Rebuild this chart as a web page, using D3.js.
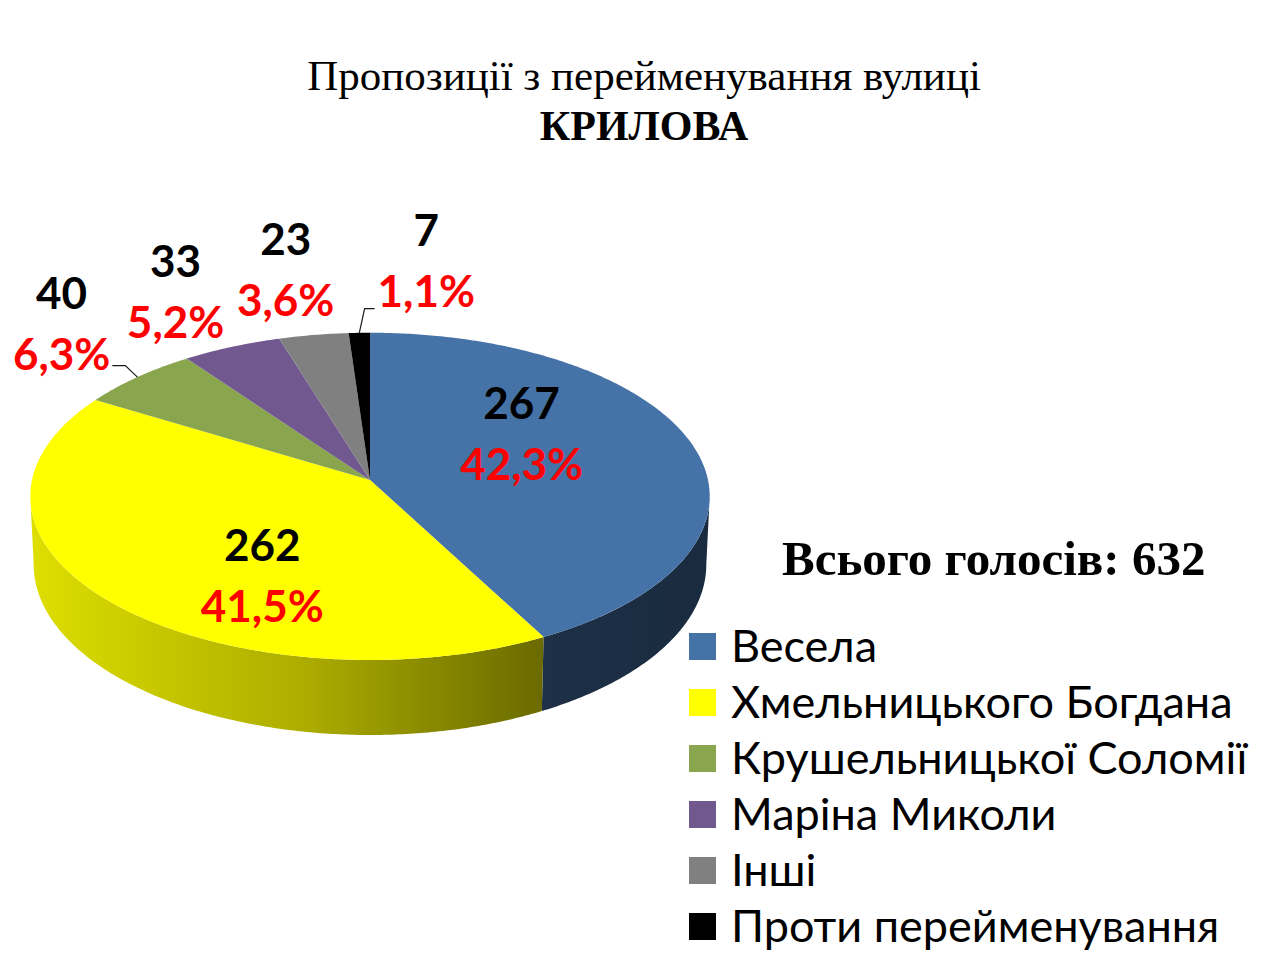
<!DOCTYPE html>
<html>
<head>
<meta charset="utf-8">
<script src="https://cdn.jsdelivr.net/npm/d3@7"></script>
<style>
  body { margin: 0; background: #fff; }
</style>
</head>
<body>
<svg id="chart" width="1280" height="960"></svg>
<script>
/*
  Data
*/
var categories = ["Весела", "Хмельницького Богдана", "Крушельницької Соломії", "Маріна Миколи", "Інші", "Проти перейменування"];
var votes = [267, 262, 40, 33, 23, 7];
var percentLabels = ["42,3%", "41,5%", "6,3%", "5,2%", "3,6%", "1,1%"];
var sliceColors = ["#4572a7", "#ffff00", "#89a54e", "#71588f", "#808080", "#000000"];
var titleLines = ["Пропозиції з перейменування вулиці", "КРИЛОВА"];
var totalLabel = "Всього голосів: 632";

/*
  3D pie geometry: a tilted disc with a little perspective
*/
var cx = 370, cy = 480, rx = 338, ry = 162, depth = 67.5;
var persp = 0.1; //back of the disc shrinks, front grows
var labelFont = "Lato, 'Open Sans', sans-serif";
var serifFont = "'Liberation Serif', 'Times New Roman', serif";

//where each label sits, relative to the slice's mid angle (flat ellipse)
var labelPlacement = [
  {k: 0.45, dx: 4, dy: 18},
  {k: 0.45, dx: 3, dy: 92},
  {k: 1.25, dx: 2, dy: 27, leader: "right"},
  {k: 1.25, dx: -6, dy: 39},
  {k: 1.25, dx: -7, dy: 35},
  {k: 1.25, dx: 71, dy: 29, leader: "left"}
];

function scaleAt(a){
  return 1 / (1 + persp * Math.cos(a));
}

//point on the rim; bottom = true gives the lower rim
function rimPt(a, bottom){
  var s = scaleAt(a);
  var x = rx * Math.sin(a) * s, y = -ry * Math.cos(a) * s;
  if(bottom){
    x *= 0.99;
    y += depth * s;
  }
  return [cx + x, cy + y];
}

function labelPt(a, k){
  return [cx + rx * k * Math.sin(a), cy - ry * k * Math.cos(a)];
}

function rimPoints(a0, a1, bottom){
  var n = Math.max(2, Math.ceil((a1 - a0) / 0.01));
  var pts = [];
  for(var i = 0; i <= n; i++) pts.push(rimPt(a0 + (a1 - a0) * i / n, bottom));
  return pts;
}

var svg = d3.select("#chart");
var line = d3.line();
var defs = svg.append("defs");

var pie = d3.pie().value(function(d){ return d; }).sort(null);
var slices = pie(votes);

//Side shading: darker towards the right
var shadeStops = [[0, 0.87], [0.4, 0.68], [0.75, 0.42], [1, 0.38]];
slices.forEach(function(s, i){
  var base = d3.rgb(sliceColors[i]);
  var g = defs.append("linearGradient")
    .attr("id", "side" + i)
    .attr("gradientUnits", "userSpaceOnUse")
    .attr("x1", cx - rx).attr("x2", cx + rx)
    .attr("y1", 0).attr("y2", 0);
  shadeStops.forEach(function(st){
    g.append("stop")
      .attr("offset", st[0])
      .attr("stop-color", d3.rgb(base.r * st[1], base.g * st[1], base.b * st[1]).formatHex());
  });
});

//Front sides (between the two silhouette angles)
var silhouette = Math.acos(-persp);
var sides = svg.append("g");
slices.forEach(function(s, i){
  var a0 = Math.max(s.startAngle, silhouette);
  var a1 = Math.min(s.endAngle, 2 * Math.PI - silhouette);
  if(a0 >= a1) return;
  var pts = rimPoints(a0, a1, false).concat(rimPoints(a0, a1, true).reverse());
  sides.append("path")
    .attr("d", line(pts) + "Z")
    .attr("fill", "url(#side" + i + ")");
});

//Top faces
var tops = svg.append("g");
slices.forEach(function(s, i){
  var pts = [[cx, cy]].concat(rimPoints(s.startAngle, s.endAngle, false));
  tops.append("path")
    .attr("d", line(pts) + "Z")
    .attr("fill", sliceColors[i]);
});

//Data labels
var labels = svg.append("g")
  .attr("font-family", labelFont)
  .attr("font-weight", "bold")
  .attr("font-size", 44)
  .attr("text-anchor", "middle");

slices.forEach(function(s, i){
  var mid = (s.startAngle + s.endAngle) / 2;
  var lp = labelPlacement[i];
  var p = labelPt(mid, lp.k);
  var x = p[0] + lp.dx, y = p[1] + lp.dy;

  labels.append("text")
    .attr("x", x).attr("y", y - 61)
    .attr("fill", "#000")
    .text(votes[i]);
  var pct = labels.append("text")
    .attr("x", x).attr("y", y)
    .attr("fill", "#ff0000")
    .text(percentLabels[i]);

  if(lp.leader){
    var bb = pct.node().getBBox();
    var start, knee;
    if(lp.leader == "right"){
      start = [bb.x + bb.width + 2, y - 4];
      knee = [start[0] + 13, start[1]];
    }
    else{
      start = [bb.x - 3, y + 2];
      knee = [start[0] - 10, start[1]];
    }
    svg.append("path")
      .attr("d", line([start, knee, rimPt(mid, false)]))
      .attr("fill", "none")
      .attr("stroke", "#1a1a1a")
      .attr("stroke-width", 1.2);
  }
});

//Title
svg.append("text")
  .attr("x", 644).attr("y", 90)
  .attr("text-anchor", "middle")
  .attr("font-family", serifFont)
  .attr("font-size", 43)
  .text(titleLines[0]);
svg.append("text")
  .attr("x", 644).attr("y", 140)
  .attr("text-anchor", "middle")
  .attr("font-family", serifFont)
  .attr("font-weight", "bold")
  .attr("font-size", 42)
  .text(titleLines[1]);

//Total votes
svg.append("text")
  .attr("x", 782).attr("y", 575)
  .attr("font-family", serifFont)
  .attr("font-weight", "bold")
  .attr("font-size", 49)
  .text(totalLabel);

//Legend
var legend = svg.append("g").attr("transform", "translate(689,633)");
var rows = legend.selectAll("g").data(categories).enter().append("g")
  .attr("transform", function(d, i){ return "translate(0," + (i * 56) + ")"; });
rows.append("rect")
  .attr("width", 27).attr("height", 27)
  .attr("fill", function(d, i){ return sliceColors[i]; });
rows.append("text")
  .attr("x", 42).attr("y", 29)
  .attr("font-family", labelFont)
  .attr("font-size", 45)
  .attr("fill", "#000")
  .text(function(d){ return d; });
</script>
</body>
</html>
